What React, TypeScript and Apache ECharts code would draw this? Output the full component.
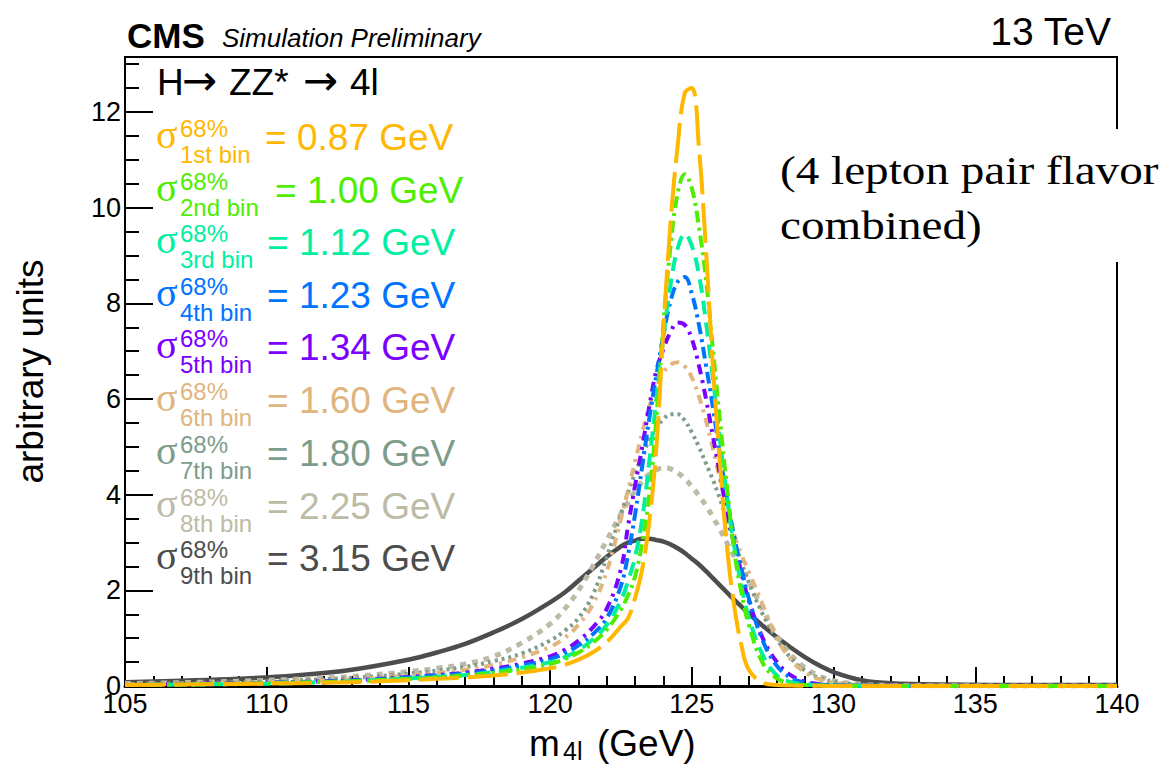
import React, { useEffect, useRef } from 'react';
import * as echarts from 'echarts';

// m4l sampling points (GeV)
const massPoints = [105, 107, 109, 111, 113, 115, 116, 117, 118, 119, 120, 120.5, 121, 121.5, 122, 122.5, 122.75, 123, 123.25, 123.5, 123.75, 124, 124.25, 124.5, 124.75, 125, 125.25, 125.5, 125.75, 126, 126.25, 126.5, 126.75, 127, 127.5, 128, 128.5, 129, 129.5, 130, 131, 132, 134, 137, 140];

const bin1 = [0.02, 0.03, 0.04, 0.06, 0.08, 0.12, 0.15, 0.18, 0.22, 0.28, 0.37, 0.44, 0.55, 0.7, 0.92, 1.25, 1.42, 1.85, 2.45, 3.45, 5.0, 7.5, 9.7, 11.3, 12.4, 12.5, 11.25, 9.1, 6.6, 4.6, 2.85, 1.65, 0.85, 0.35, 0.07, 0.02, 0.01, 0.005, 0.003, 0.002, 0.001, 0.001, 0.001, 0.001, 0.001];
const bin2 = [0.02, 0.03, 0.05, 0.07, 0.1, 0.15, 0.18, 0.22, 0.27, 0.35, 0.46, 0.56, 0.7, 0.9, 1.18, 1.6, 1.9, 2.3, 3.0, 4.0, 5.6, 7.6, 9.2, 10.3, 10.7, 10.4, 9.6, 8.5, 7.0, 5.5, 4.1, 2.8, 1.95, 1.3, 0.48, 0.16, 0.05, 0.02, 0.01, 0.005, 0.002, 0.001, 0.001, 0.001, 0.001];
const bin3 = [0.02, 0.03, 0.04, 0.06, 0.1, 0.16, 0.19, 0.23, 0.29, 0.38, 0.5, 0.6, 0.75, 0.97, 1.28, 1.8, 2.2, 2.7, 3.5, 4.7, 6.0, 7.3, 8.4, 9.15, 9.45, 9.2, 8.6, 7.6, 6.4, 5.1, 3.9, 2.9, 2.1, 1.45, 0.65, 0.22, 0.08, 0.03, 0.015, 0.01, 0.004, 0.002, 0.001, 0.001, 0.001];
const bin4 = [0.02, 0.03, 0.05, 0.08, 0.11, 0.18, 0.22, 0.26, 0.33, 0.43, 0.56, 0.68, 0.85, 1.08, 1.42, 2.1, 2.75, 3.6, 4.6, 5.6, 6.5, 7.35, 8.05, 8.45, 8.55, 8.2, 7.55, 6.7, 5.8, 4.8, 3.9, 3.1, 2.45, 1.85, 0.95, 0.42, 0.17, 0.07, 0.03, 0.015, 0.006, 0.003, 0.002, 0.001, 0.001];
const bin5 = [0.02, 0.04, 0.06, 0.08, 0.12, 0.19, 0.23, 0.28, 0.36, 0.47, 0.62, 0.75, 0.95, 1.22, 1.62, 2.45, 3.35, 4.2, 5.0, 5.85, 6.6, 7.05, 7.4, 7.6, 7.55, 7.25, 6.7, 6.0, 5.2, 4.4, 3.6, 2.95, 2.35, 1.8, 1.0, 0.5, 0.22, 0.09, 0.04, 0.02, 0.008, 0.004, 0.002, 0.001, 0.001];
const bin6 = [0.03, 0.05, 0.07, 0.1, 0.14, 0.22, 0.27, 0.34, 0.44, 0.6, 0.82, 1.0, 1.28, 1.7, 2.4, 3.5, 4.1, 4.7, 5.3, 5.85, 6.25, 6.55, 6.72, 6.77, 6.68, 6.45, 6.05, 5.55, 4.95, 4.3, 3.7, 3.15, 2.75, 2.4, 1.7, 1.0, 0.55, 0.28, 0.14, 0.07, 0.02, 0.008, 0.003, 0.002, 0.001];
const bin7 = [0.04, 0.06, 0.08, 0.12, 0.17, 0.26, 0.32, 0.4, 0.52, 0.68, 0.95, 1.15, 1.42, 1.9, 2.7, 3.6, 4.05, 4.45, 4.8, 5.15, 5.4, 5.58, 5.68, 5.68, 5.55, 5.3, 5.0, 4.65, 4.3, 3.9, 3.45, 3.0, 2.58, 2.18, 1.5, 0.98, 0.58, 0.32, 0.17, 0.09, 0.025, 0.01, 0.004, 0.002, 0.001];
const bin8 = [0.05, 0.07, 0.1, 0.14, 0.2, 0.3, 0.37, 0.46, 0.62, 0.9, 1.3, 1.6, 2.0, 2.5, 3.05, 3.6, 3.85, 4.08, 4.28, 4.43, 4.52, 4.56, 4.54, 4.46, 4.33, 4.17, 3.98, 3.77, 3.52, 3.26, 2.98, 2.7, 2.45, 2.2, 1.6, 1.05, 0.65, 0.38, 0.21, 0.11, 0.035, 0.012, 0.004, 0.002, 0.001];
const bin9 = [0.08, 0.11, 0.15, 0.22, 0.34, 0.55, 0.7, 0.88, 1.12, 1.4, 1.75, 1.95, 2.2, 2.45, 2.7, 2.92, 3.0, 3.04, 3.08, 3.08, 3.05, 3.02, 2.96, 2.88, 2.78, 2.66, 2.54, 2.4, 2.25, 2.1, 1.95, 1.8, 1.66, 1.52, 1.26, 1.02, 0.8, 0.6, 0.43, 0.29, 0.12, 0.06, 0.03, 0.02, 0.02];

const curves = [bin1, bin2, bin3, bin4, bin5, bin6, bin7, bin8, bin9];
const binLabels = ['1st bin', '2nd bin', '3rd bin', '4th bin', '5th bin', '6th bin', '7th bin', '8th bin', '9th bin'];
const resolutions = ['0.87', '1.00', '1.12', '1.23', '1.34', '1.60', '1.80', '2.25', '3.15'];
const binColors = ['#FFB700', '#4FEE00', '#00EFA0', '#0073FF', '#7A00FF', '#E0B57E', '#7D9C8A', '#BDBBA5', '#4D4D4D'];
const dashPatterns: any[] = [
  [40, 9],
  [12, 5, 3, 5],
  [14, 8],
  [12, 5, 3, 5],
  [10, 6, 3, 6],
  [9, 6, 3, 6],
  [3, 4],
  [6, 6],
  'solid',
];
const lineWidths = [4, 4, 4, 4, 4, 4, 4, 5, 4.5];

const xTickMin = 105;
const xTickMax = 140;
const yMax = 13.15;

// legend layout
const legendRowY = [137, 190, 242, 295, 347, 400, 453, 506, 558];
const legendEqX = [265, 275, 267, 267, 267, 267, 267, 267, 267];

const SANS = 'Liberation Sans';
const SERIF = 'Liberation Serif';

function txt(x: number, y: number, text: string, fill: string, fontSize: number, extra: any = {}, fam = SANS) {
  return {
    type: 'text', x, y, z: 100,
    style: { text, fill, fontSize, fontFamily: fam, verticalAlign: 'middle', align: 'left', ...extra },
  };
}

export default function App() {
  const ref = useRef<HTMLDivElement>(null);
  useEffect(() => {
    if (!ref.current) return;
    const chart = echarts.init(ref.current, undefined, { renderer: 'svg' });

    const series = curves.map((ys, i) => ({
      type: 'line',
      name: binLabels[i],
      data: massPoints.map((x, j) => [x, ys[j]]),
      symbol: 'none',
      showSymbol: false,
      smooth: 0.4,
      clip: true,
      yAxisIndex: 0,
      z: 10 + (8 - i),
      lineStyle: { color: binColors[i], width: lineWidths[i], type: dashPatterns[i], cap: 'butt', join: 'round' },
    }));

    const legendEls: any[] = [];
    binLabels.forEach((lab, i) => {
      const c = legendRowY[i];
      const col = binColors[i];
      legendEls.push(txt(156, c - 3, 'σ', col, 40, {}, SERIF));
      legendEls.push(txt(180, c - 9, '68%', col, 24));
      legendEls.push(txt(180, c + 17, lab, col, 24));
      legendEls.push(txt(legendEqX[i], c, `= ${resolutions[i]} GeV`, col, 37));
    });

    const option: any = {
      animation: false,
      backgroundColor: '#fff',
      grid: { left: 125, right: 56, top: 57, bottom: 83, show: true, borderColor: '#000', borderWidth: 2, backgroundColor: 'transparent' },
      xAxis: {
        type: 'value', min: xTickMin, max: xTickMax, interval: 5,
        axisLine: { show: true, onZero: false, lineStyle: { color: '#000', width: 3 } },
        axisTick: { show: true, inside: true, length: 19, lineStyle: { color: '#000', width: 2 } },
        minorTick: { show: true, splitNumber: 5, length: 10, lineStyle: { color: '#000', width: 2 } },
        axisLabel: { color: '#000', fontSize: 27, fontFamily: SANS, margin: 9, lineHeight: 18 },
        splitLine: { show: false },
      },
      yAxis: [
        {
          type: 'value', min: 0, max: yMax, interval: 2,
          name: 'arbitrary units', nameLocation: 'middle', nameGap: 76,
          nameTextStyle: { color: '#000', fontSize: 37, fontFamily: SANS },
          axisLine: { show: true, onZero: false, lineStyle: { color: '#000', width: 2 } },
          axisTick: { show: true, inside: true, length: 28, lineStyle: { color: '#000', width: 2 } },
          axisLabel: { color: '#000', fontSize: 27, fontFamily: SANS, margin: 4, lineHeight: 16, showMaxLabel: false },
          splitLine: { show: false },
        },
        {
          type: 'value', min: 0, max: yMax, interval: 0.5, position: 'left',
          axisLine: { show: false },
          axisTick: { show: true, inside: true, length: 14, lineStyle: { color: '#000', width: 2 } },
          axisLabel: { show: false },
          splitLine: { show: false },
        },
      ],
      graphic: [
        txt(127, 35, 'CMS', '#000', 35, { fontWeight: 'bold' }),
        txt(222, 38, 'Simulation Preliminary', '#000', 26, { fontStyle: 'italic' }),
        txt(1111, 31, '13 TeV', '#000', 39, { align: 'right' }),
        txt(157, 82, 'H', '#000', 37),
        txt(182, 80, '\u2192', '#000', 42, {}, 'DejaVu Sans'),
        txt(229, 82, 'ZZ*', '#000', 37),
        txt(303, 80, '\u2192', '#000', 42, {}, 'DejaVu Sans'),
        txt(350, 82, '4l', '#000', 37),
        ...legendEls,
        { type: 'rect', z: 100, shape: { x: 770, y: 129, width: 403, height: 133 }, style: { fill: '#fff' } },
        { type: 'text', x: 780, y: 170, scaleX: 1.21, scaleY: 1, z: 101, style: { x: 0, y: 0, text: '(4 lepton pair flavor', fill: '#000', fontSize: 39, fontFamily: SERIF, verticalAlign: 'middle', align: 'left' } },
        { type: 'text', x: 780, y: 225, scaleX: 1.21, scaleY: 1, z: 101, style: { x: 0, y: 0, text: 'combined)', fill: '#000', fontSize: 39, fontFamily: SERIF, verticalAlign: 'middle', align: 'left' } },
        txt(529, 743, 'm', '#000', 37),
        txt(563, 751, '4l', '#000', 25),
        txt(597, 743, '(GeV)', '#000', 37),
      ],
      series,
    };
    chart.setOption(option);
    return () => chart.dispose();
  }, []);
  return <div ref={ref} style={{ position: 'absolute', left: 0, top: 0, width: 1173, height: 769 }} />;
}
